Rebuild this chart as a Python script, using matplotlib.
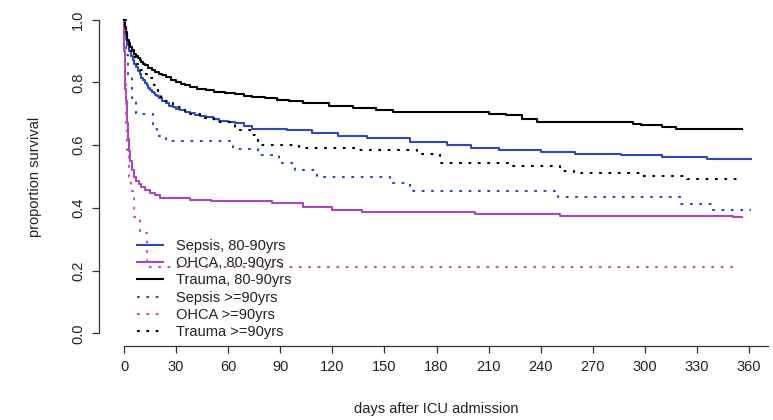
import matplotlib
matplotlib.use("Agg")
import matplotlib.pyplot as plt

plt.rcParams['font.family'] = ['Liberation Sans', 'DejaVu Sans']

# Kaplan-Meier style survival estimates (days after ICU admission, proportion surviving)
sepsis_80_t = [0, 0.5, 1, 1.5, 2, 3, 4, 5, 6, 7, 8, 9, 10, 11, 12, 13, 14, 15, 16, 17, 18,
               19, 20, 22, 24, 26, 28, 30, 32, 35, 38, 41, 44, 47, 51, 55, 60, 64, 69, 74,
               84, 94, 108, 123, 140, 151, 165, 186, 200, 216, 240, 260, 286, 310, 336, 361]
sepsis_80_s = [1.0, 0.97, 0.95, 0.935, 0.92, 0.90, 0.885, 0.872, 0.86, 0.848, 0.836, 0.825,
               0.815, 0.806, 0.797, 0.79, 0.783, 0.776, 0.77, 0.765, 0.76, 0.755, 0.75,
               0.741, 0.733, 0.726, 0.72, 0.715, 0.711, 0.705, 0.701, 0.697, 0.693, 0.689,
               0.684, 0.678, 0.673, 0.669, 0.661, 0.652, 0.65, 0.647, 0.637, 0.628, 0.624,
               0.622, 0.61, 0.599, 0.592, 0.585, 0.578, 0.573, 0.569, 0.562, 0.557, 0.557]

ohca_80_t = [0, 0.2, 0.4, 0.7, 1, 1.5, 2, 2.5, 3, 3.5, 4.5, 5.5, 7, 8.5, 10, 12, 15, 18, 21,
             28, 38, 50, 85, 103, 120, 137, 202, 251, 351, 356]
ohca_80_s = [1.0, 0.90, 0.84, 0.78, 0.74, 0.70, 0.67, 0.62, 0.58, 0.55, 0.52, 0.50, 0.487,
             0.475, 0.465, 0.457, 0.449, 0.44, 0.433, 0.43, 0.425, 0.423, 0.415, 0.404,
             0.394, 0.388, 0.381, 0.375, 0.370, 0.370]

trauma_80_t = [0, 0.5, 1, 1.5, 2, 3, 3.5, 4.5, 6, 7, 8, 9, 10, 11, 12, 14, 16, 18, 20, 22,
               24, 27, 30, 33, 35, 38, 42, 47, 52, 58, 64, 69, 74, 81, 88, 95, 103, 118,
               132, 145, 155, 210, 220, 229, 238, 293, 298, 303, 310, 318, 356]
trauma_80_s = [1.0, 0.975, 0.96, 0.947, 0.935, 0.92, 0.913, 0.903, 0.89, 0.883, 0.876, 0.87,
               0.865, 0.859, 0.854, 0.847, 0.84, 0.834, 0.828, 0.822, 0.817, 0.808, 0.80,
               0.794, 0.79, 0.786, 0.78, 0.775, 0.77, 0.767, 0.764, 0.758, 0.753, 0.749,
               0.745, 0.739, 0.733, 0.725, 0.717, 0.712, 0.707, 0.70, 0.695, 0.684, 0.673,
               0.668, 0.665, 0.663, 0.657, 0.652, 0.652]

sepsis_90_t = [0, 1, 2.3, 4.6, 7, 16.7, 19, 24, 63, 77, 89, 98.5, 111, 153, 165, 250, 321, 339, 361]
sepsis_90_s = [1.0, 0.886, 0.817, 0.749, 0.70, 0.65, 0.63, 0.614, 0.589, 0.567, 0.543,
               0.522, 0.50, 0.479, 0.455, 0.436, 0.413, 0.394, 0.394]

ohca_90_t = [0, 0.5, 1, 2, 3, 4, 6, 9, 13, 354]
ohca_90_s = [1.0, 0.80, 0.66, 0.57, 0.50, 0.455, 0.37, 0.32, 0.213, 0.213]

trauma_90_t = [0, 1, 2, 3.5, 5, 7, 9, 11, 14, 17, 19.6, 21.5, 23.6, 28, 35, 44, 52, 64, 67,
               72.5, 77, 101, 133, 169, 182, 224, 251, 259, 297, 324, 355]
trauma_90_s = [1.0, 0.96, 0.93, 0.90, 0.88, 0.858, 0.838, 0.825, 0.813, 0.79, 0.765, 0.752,
               0.742, 0.72, 0.70, 0.685, 0.673, 0.655, 0.647, 0.631, 0.60, 0.592, 0.583,
               0.573, 0.543, 0.535, 0.519, 0.511, 0.503, 0.493, 0.493]

labels = ["Sepsis, 80-90yrs", "OHCA, 80-90yrs", "Trauma, 80-90yrs",
          "Sepsis >=90yrs", "OHCA >=90yrs", "Trauma >=90yrs"]
x_ticks = [0, 30, 60, 90, 120, 150, 180, 210, 240, 270, 300, 330, 360]
y_ticks = [0.0, 0.2, 0.4, 0.6, 0.8, 1.0]

BLUE = "#2d4bb5"
PURPLE = "#a947bd"
MAGENTA = "#d24cb4"
BLACK = "#000000"

series = [
    (sepsis_80_t, sepsis_80_s, BLUE, "solid"),
    (ohca_80_t, ohca_80_s, PURPLE, "solid"),
    (trauma_80_t, trauma_80_s, BLACK, "solid"),
    (sepsis_90_t, sepsis_90_s, BLUE, "dotted"),
    (ohca_90_t, ohca_90_s, MAGENTA, "dotted"),
    (trauma_90_t, trauma_90_s, BLACK, "dotted"),
]

fig = plt.figure(figsize=(7.73, 4.20), dpi=100)
ax = fig.add_axes([99 / 773, 1 - 346 / 420, 675 / 773, 339 / 420])

for (t, s, col, style), lab in zip(series, labels):
    line, = ax.step(t, s, where="post", color=col, lw=1.5, label=lab)
    if style == "dotted":
        line.set_dashes((1.3, 3.2))

ax.set_xlim(-14.4, 374.4)
ax.set_ylim(-0.04, 1.04)
ax.set_xticks(x_ticks)
ax.set_xticklabels([str(v) for v in x_ticks])
ax.set_yticks(y_ticks)
ax.set_yticklabels([f"{v:.1f}" for v in y_ticks], rotation=90, va="center")

for side in ("top", "right"):
    ax.spines[side].set_visible(False)
ax.spines["left"].set_bounds(0, 1)
ax.spines["bottom"].set_bounds(0, 371)
for side in ("left", "bottom"):
    ax.spines[side].set_linewidth(0.9)
    ax.spines[side].set_color("#333333")

ax.tick_params(axis="both", length=5, width=0.9, color="#333333",
               labelsize=10.5, labelcolor="#222222", pad=5)

ax.set_xlabel("days after ICU admission", fontsize=10.5, color="#222222")
ax.xaxis.set_label_coords(0.5, -0.165)
ax.set_ylabel("proportion survival", fontsize=10.5, color="#222222")
ax.yaxis.set_label_coords(-0.084, 0.5)

leg = ax.legend(loc="upper left", bbox_to_anchor=(137 / 773, 1 - 239 / 420),
                bbox_transform=fig.transFigure, frameon=False, fontsize=10.5,
                handlelength=1.8, handletextpad=0.9, labelspacing=0.22,
                borderpad=0, borderaxespad=0)
for txt in leg.get_texts():
    txt.set_color("#222222")

fig.savefig("out.png", dpi=100)
